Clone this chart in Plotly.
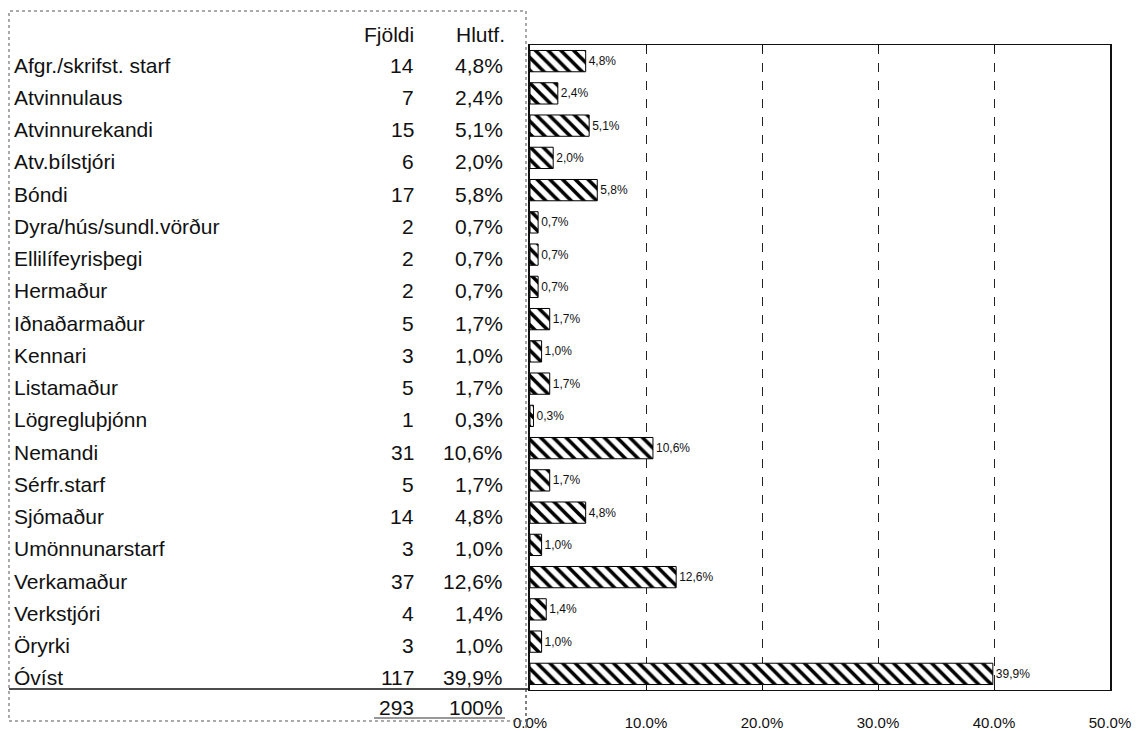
import plotly.graph_objects as go

categories = ["Afgr./skrifst. starf", "Atvinnulaus", "Atvinnurekandi", "Atv.bílstjóri",
              "Bóndi", "Dyra/hús/sundl.vörður", "Ellilífeyrisþegi", "Hermaður",
              "Iðnaðarmaður", "Kennari", "Listamaður", "Lögregluþjónn", "Nemandi",
              "Sérfr.starf", "Sjómaður", "Umönnunarstarf", "Verkamaður", "Verkstjóri",
              "Öryrki", "Óvíst"]
counts = [14, 7, 15, 6, 17, 2, 2, 2, 5, 3, 5, 1, 31, 5, 14, 3, 37, 4, 3, 117]
percents = [4.8, 2.4, 5.1, 2.0, 5.8, 0.7, 0.7, 0.7, 1.7, 1.0, 1.7, 0.3, 10.6, 1.7,
            4.8, 1.0, 12.6, 1.4, 1.0, 39.9]
total_count = 293
total_pct_label = "100%"
header_labels = ["Fjöldi", "Hlutf."]
x_ticks = [0, 10, 20, 30, 40, 50]

W, H = 1137, 731
# plot area in page pixels
PL, PR, PT, PB = 530, 1110, 45, 690

def px_x(p):
    return (p - PL) / (PR - PL)

def px_y(p):
    return (PB - p) / (PB - PT)

pct_labels = [f"{v:.1f}%".replace(".", ",") for v in percents]
n = len(categories)
idx = list(range(n))

fig = go.Figure()
fig.add_trace(go.Bar(
    x=percents, y=idx, orientation="h", width=0.66,
    marker=dict(color="white", line=dict(color="black", width=1),
                pattern=dict(shape="\\", size=9, solidity=0.4, fgopacity=1,
                             fgcolor="black", bgcolor="white", fillmode="overlay")),
    text=pct_labels, textposition="outside", cliponaxis=False,
    textfont=dict(size=12, color="#111"),
    hoverinfo="skip", showlegend=False,
))

font_main = "Liberation Sans, Arial, sans-serif"
ann = []
TS = 21
for i, (c, k, p) in enumerate(zip(categories, counts, pct_labels)):
    ann.append(dict(x=px_x(12), y=i, xref="paper", yref="y", text=c, showarrow=False,
                    xanchor="left", yanchor="middle", yshift=-4,
                    font=dict(size=TS, color="#111")))
    ann.append(dict(x=px_x(416), y=i, xref="paper", yref="y", text=str(k), showarrow=False,
                    xanchor="right", yanchor="middle", yshift=-4,
                    font=dict(size=TS, color="#111")))
    ann.append(dict(x=px_x(505), y=i, xref="paper", yref="y", text=p, showarrow=False,
                    xanchor="right", yanchor="middle", yshift=-4,
                    font=dict(size=TS, color="#111")))
# header
ann.append(dict(x=px_x(416), y=px_y(34), xref="paper", yref="paper", text=header_labels[0],
                showarrow=False, xanchor="right", yanchor="middle", font=dict(size=TS, color="#111")))
ann.append(dict(x=px_x(507), y=px_y(34), xref="paper", yref="paper", text=header_labels[1],
                showarrow=False, xanchor="right", yanchor="middle", font=dict(size=TS, color="#111")))
# total
ann.append(dict(x=px_x(416), y=px_y(707), xref="paper", yref="paper", text=str(total_count),
                showarrow=False, xanchor="right", yanchor="middle", font=dict(size=TS, color="#111")))
ann.append(dict(x=px_x(505), y=px_y(707), xref="paper", yref="paper", text=total_pct_label,
                showarrow=False, xanchor="right", yanchor="middle", font=dict(size=TS, color="#111")))

shapes = [
    # table box (dotted gray)
    dict(type="rect", xref="paper", yref="paper", x0=px_x(9), x1=px_x(526),
         y0=px_y(721), y1=px_y(11), line=dict(color="#555", width=1, dash="dot")),
    # table right border continues a bit below
    dict(type="line", xref="paper", yref="paper", x0=px_x(526), x1=px_x(526),
         y0=px_y(728), y1=px_y(690), line=dict(color="#555", width=1, dash="dot")),
    # separator above total
    dict(type="line", xref="paper", yref="paper", x0=px_x(9), x1=px_x(530),
         y0=px_y(689), y1=px_y(689), line=dict(color="#111", width=1.5)),
    # underline of total numbers
    dict(type="line", xref="paper", yref="paper", x0=px_x(374), x1=px_x(505),
         y0=px_y(718), y1=px_y(718), line=dict(color="#333", width=1)),
]

fig.update_layout(
    width=W, height=H,
    margin=dict(l=PL, r=W - PR, t=PT, b=H - PB, pad=0, autoexpand=False),
    paper_bgcolor="white", plot_bgcolor="white",
    font=dict(family=font_main, color="#111"),
    annotations=ann, shapes=shapes,
    bargap=0.34,
)
fig.update_xaxes(
    range=[0, 50], tickvals=x_ticks, ticktext=[f"{t:.1f}%" for t in x_ticks],
    showgrid=True, gridcolor="#222", gridwidth=1, griddash="dash",
    showline=True, linecolor="#111", linewidth=1, mirror="ticks",
    ticks="inside", ticklen=6, tickcolor="#111", automargin=False,
    ticklabeloverflow="allow",
    tickfont=dict(size=15, color="#111"), ticklabelstandoff=19, zeroline=False,
)
fig.update_yaxes(
    range=[n - 0.5, -0.5], showticklabels=False, showgrid=False, zeroline=False,
    showline=True, linecolor="#111", linewidth=1.5, mirror=True, ticks="",
    automargin=False,
)

fig.write_html("out.html", config={"displayModeBar": False},
               post_script="document.body.style.margin='0px';document.body.style.overflow='hidden';")
